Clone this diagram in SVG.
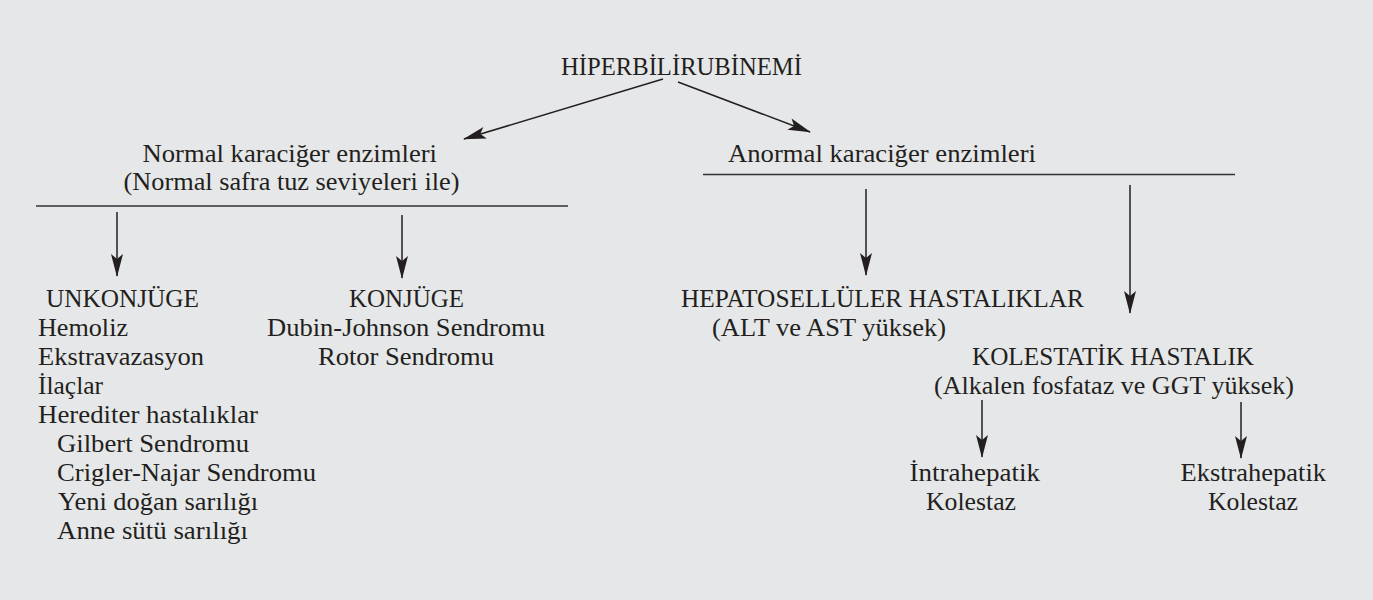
<svg xmlns="http://www.w3.org/2000/svg" width="1373" height="600" viewBox="0 0 1373 600">
<defs>
<style>
text{font-family:"Liberation Serif","Times New Roman",serif;font-size:25px;fill:#231f20}
.ln{stroke:#333;stroke-width:1.6;fill:none}
.ar{stroke:#231f20;stroke-width:1.5;fill:none;marker-end:url(#ah)}
</style>
<marker id="ah" markerUnits="userSpaceOnUse" viewBox="-24 -7 26 14" refX="0" refY="0" markerWidth="26" markerHeight="14" orient="auto">
<path d="M1,0 L-22,-6 L-17,0 L-22,6 Z" fill="#231f20"/>
</marker>
</defs>
<rect x="0" y="0" width="1373" height="600" fill="#e6e7e8"/>
<g id="n-root"><text x="561" y="75" textLength="241" lengthAdjust="spacingAndGlyphs">HİPERBİLİRUBİNEMİ</text></g>
<g id="n-normal">
<text x="142.5" y="162" textLength="294.5" lengthAdjust="spacingAndGlyphs">Normal karaciğer enzimleri</text>
<text x="123.5" y="190" textLength="336" lengthAdjust="spacingAndGlyphs">(Normal safra tuz seviyeleri ile)</text>
<line class="ln" x1="36" y1="206" x2="568" y2="206"/>
</g>
<g id="n-anormal">
<text x="728" y="162" textLength="308" lengthAdjust="spacingAndGlyphs">Anormal karaciğer enzimleri</text>
<line class="ln" x1="703" y1="174.5" x2="1235" y2="174.5"/>
</g>
<g id="n-unkonjuge">
<text x="46" y="307" textLength="153" lengthAdjust="spacingAndGlyphs">UNKONJÜGE</text>
<text x="38" y="336" textLength="90" lengthAdjust="spacingAndGlyphs">Hemoliz</text>
<text x="38" y="365" textLength="166" lengthAdjust="spacingAndGlyphs">Ekstravazasyon</text>
<text x="38" y="394" textLength="65" lengthAdjust="spacingAndGlyphs">İlaçlar</text>
<text x="38" y="423" textLength="220" lengthAdjust="spacingAndGlyphs">Herediter hastalıklar</text>
<text x="57" y="452" textLength="192" lengthAdjust="spacingAndGlyphs">Gilbert Sendromu</text>
<text x="57" y="481" textLength="259" lengthAdjust="spacingAndGlyphs">Crigler-Najar Sendromu</text>
<text x="58" y="510" textLength="200" lengthAdjust="spacingAndGlyphs">Yeni doğan sarılığı</text>
<text x="57" y="539" textLength="191" lengthAdjust="spacingAndGlyphs">Anne sütü sarılığı</text>
</g>
<g id="n-konjuge">
<text x="349" y="307" textLength="115" lengthAdjust="spacingAndGlyphs">KONJÜGE</text>
<text x="267" y="336" textLength="278" lengthAdjust="spacingAndGlyphs">Dubin-Johnson Sendromu</text>
<text x="318" y="365" textLength="176" lengthAdjust="spacingAndGlyphs">Rotor Sendromu</text>
</g>
<g id="n-hepato">
<text x="681" y="307" textLength="403" lengthAdjust="spacingAndGlyphs">HEPATOSELLÜLER HASTALIKLAR</text>
<text x="712" y="336" textLength="234" lengthAdjust="spacingAndGlyphs">(ALT ve AST yüksek)</text>
</g>
<g id="n-kolestatik">
<text x="972" y="365" textLength="282" lengthAdjust="spacingAndGlyphs">KOLESTATİK HASTALIK</text>
<text x="934" y="394" textLength="360" lengthAdjust="spacingAndGlyphs">(Alkalen fosfataz ve GGT yüksek)</text>
</g>
<g id="n-intra">
<text x="909.5" y="481" textLength="130.5" lengthAdjust="spacingAndGlyphs">İntrahepatik</text>
<text x="926" y="510" textLength="90" lengthAdjust="spacingAndGlyphs">Kolestaz</text>
</g>
<g id="n-ekstra">
<text x="1180.5" y="481" textLength="145.5" lengthAdjust="spacingAndGlyphs">Ekstrahepatik</text>
<text x="1208" y="510" textLength="90" lengthAdjust="spacingAndGlyphs">Kolestaz</text>
</g>
<g id="connectors">
<line class="ar" x1="663" y1="79" x2="464" y2="139"/>
<line class="ar" x1="678" y1="82" x2="810" y2="132"/>
<line class="ar" x1="117" y1="212" x2="117" y2="276"/>
<line class="ar" x1="402" y1="215" x2="402" y2="278"/>
<line class="ar" x1="866" y1="189" x2="866" y2="275"/>
<line class="ar" x1="1130" y1="185" x2="1130" y2="313"/>
<line class="ar" x1="982" y1="400" x2="982" y2="457"/>
<line class="ar" x1="1241" y1="402" x2="1241" y2="458"/>
</g>
</svg>
